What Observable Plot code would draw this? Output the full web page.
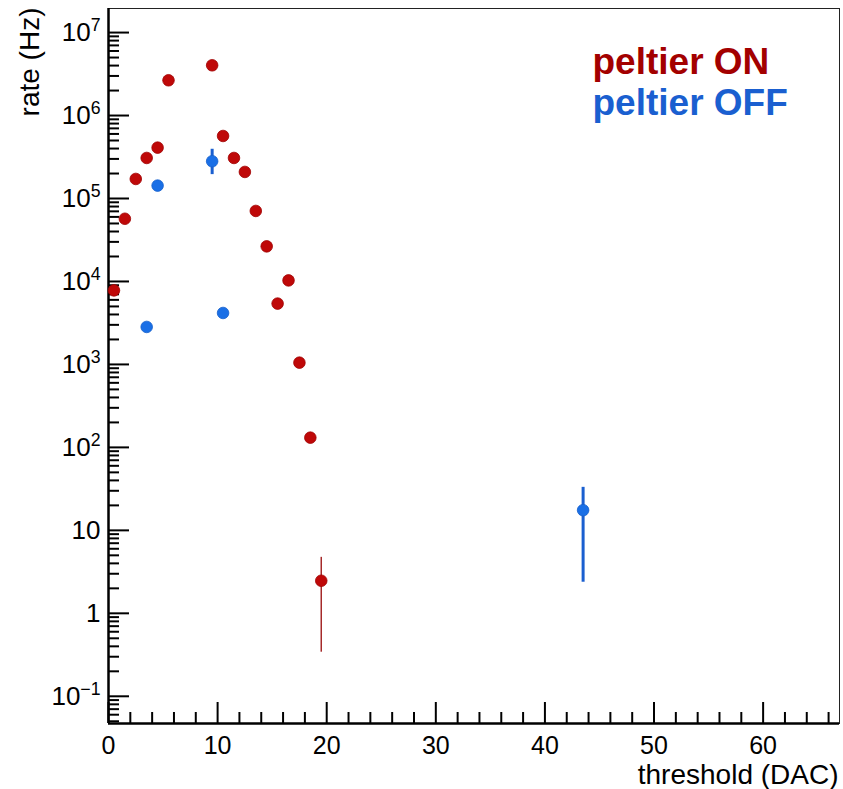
<!DOCTYPE html>
<html><head><meta charset="utf-8">
<script src="https://cdn.jsdelivr.net/npm/d3@7"></script>
<script src="https://cdn.jsdelivr.net/npm/@observablehq/plot@0.6"></script>
<style>html,body{margin:0;padding:0;background:#fff} svg{display:block}</style>
</head><body><div id="chart"></div>
<script>
// peltier ON (red)
const onX    = [0.5, 1.5, 2.5, 3.5, 4.5, 5.5, 9.5, 10.5, 11.5, 12.5, 13.5, 14.5, 15.5, 16.5, 17.5, 18.5, 19.5];
const onRate = [7800, 57000, 172000, 308000, 410000, 2660000, 4030000, 567000, 308000, 209000, 70800, 26500, 5410, 10300, 1050, 131, 2.47];
const onErrX = [19.5];
const onErrLow = [0.34];
const onErrHigh = [4.73];
// peltier OFF (blue)
const offX    = [3.5, 4.5, 9.5, 10.5, 43.5];
const offRate = [2830, 143000, 281000, 4170, 17.5];
const offErrX = [9.5, 43.5];
const offErrLow = [194000, 2.37];
const offErrHigh = [392000, 33];

const xDomain = [0, 67];
const yDomain = [0.047, 1.95e7];
const xMajor = [0, 10, 20, 30, 40, 50, 60];
const xMinor = [2,4,6,8,12,14,16,18,22,24,26,28,32,34,36,38,42,44,46,48,52,54,56,58,62,64,66];
const yMajor = [0.1, 1, 10, 1e2, 1e3, 1e4, 1e5, 1e6, 1e7];
const yMajorBase = ["10", "1", "10", "10", "10", "10", "10", "10", "10"];
const yMajorExp  = ["−1", "", "", "2", "3", "4", "5", "6", "7"];
const yMinor = [];
for (let e = -2; e <= 7; e++) for (let m = 2; m <= 9; m++) {
  const v = m * Math.pow(10, e);
  if (v >= yDomain[0] && v <= yDomain[1]) yMinor.push(v);
}
const legendText = ["peltier ON", "peltier OFF"];
const legendColor = ["#a30000", "#1a5fd0"];
const xTitle = "threshold (DAC)";
const yTitle = "rate (Hz)";

const onData = onX.map((x, i) => ({x, y: onRate[i]}));
const offData = offX.map((x, i) => ({x, y: offRate[i]}));
const onErr = onErrX.map((x, i) => ({x, lo: onErrLow[i], hi: onErrHigh[i]}));
const offErr = offErrX.map((x, i) => ({x, lo: offErrLow[i], hi: offErrHigh[i]}));

const font = "'Liberation Sans', Arial, Helvetica, sans-serif";

const chart = Plot.plot({
  width: 843, height: 789,
  marginLeft: 108, marginRight: 4, marginTop: 8, marginBottom: 66,
  x: {domain: xDomain},
  y: {type: "log", domain: yDomain},
  style: {fontFamily: font, background: "#fff", color: "#000"},
  marks: [
    Plot.frame({stroke: "#222", strokeWidth: 1}),
    Plot.ruleX([xDomain[0]], {stroke: "#000", strokeWidth: 2.5}),
    Plot.ruleY([yDomain[0]], {stroke: "#000", strokeWidth: 2.5}),
    Plot.axisX({ticks: xMajor, tickSize: -21, text: null, label: null, strokeWidth: 2}),
    Plot.axisX({ticks: xMinor, tickSize: -11, text: null, label: null, strokeWidth: 2}),
    Plot.axisX({ticks: xMajor, tickSize: 0, tickPadding: 13, fontSize: 25, label: null, tickFormat: d => String(d)}),
    Plot.axisY({ticks: yMajor, tickSize: -21, text: null, label: null, strokeWidth: 2}),
    Plot.axisY({ticks: yMinor, tickSize: -11, text: null, label: null, strokeWidth: 2}),
    Plot.axisY({ticks: yMajor, tickSize: 0, tickPadding: 8, fontSize: 26, label: null,
      tickFormat: d => { const i = yMajor.indexOf(d); return yMajorBase[i] + (yMajorExp[i] ? "^" + yMajorExp[i] : ""); }}),
    Plot.ruleX(onErr, {x: "x", y1: "lo", y2: "hi", stroke: "#a52a2a", strokeWidth: 1.5}),
    Plot.ruleX(offErr, {x: "x", y1: "lo", y2: "hi", stroke: "#1a5fd0", strokeWidth: 3}),
    Plot.dot(onData, {x: "x", y: "y", r: 5.8, fill: "#bf0808", stroke: "#a00000", strokeWidth: 0.8}),
    Plot.dot(offData, {x: "x", y: "y", r: 5.8, fill: "#1a6fe6", stroke: "#1560cc", strokeWidth: 0.8}),
    Plot.text([legendText[0]], {text: d => d, frameAnchor: "top-left", lineAnchor: "middle",
      dx: 484, dy: 54, textAnchor: "start", fontSize: 37, fontWeight: "bold", fill: legendColor[0]}),
    Plot.text([legendText[1]], {text: d => d, frameAnchor: "top-left", lineAnchor: "middle",
      dx: 484, dy: 95, textAnchor: "start", fontSize: 37, fontWeight: "bold", fill: legendColor[1]}),
    Plot.text([xTitle], {text: d => d, frameAnchor: "bottom-right", textAnchor: "end", lineAnchor: "bottom",
      dx: -1, dy: 60, fontSize: 28, fill: "#000"}),
    Plot.text([yTitle], {text: d => d, frameAnchor: "top-left", textAnchor: "end", lineAnchor: "middle", rotate: -90,
      dx: -78, dy: -1, fontSize: 28, fill: "#000"})
  ]
});
document.getElementById("chart").appendChild(chart);

// superscript exponents on the y tick labels
chart.querySelectorAll('g[aria-label="y-axis tick label"] text').forEach(t => {
  const s = t.textContent;
  const k = s.indexOf("^");
  if (k >= 0) {
    t.textContent = s.slice(0, k);
    const ts = document.createElementNS("http://www.w3.org/2000/svg", "tspan");
    ts.setAttribute("dy", "-0.55em");
    ts.setAttribute("font-size", "0.68em");
    ts.textContent = s.slice(k + 1);
    t.appendChild(ts);
  }
});
</script>
</body></html>
